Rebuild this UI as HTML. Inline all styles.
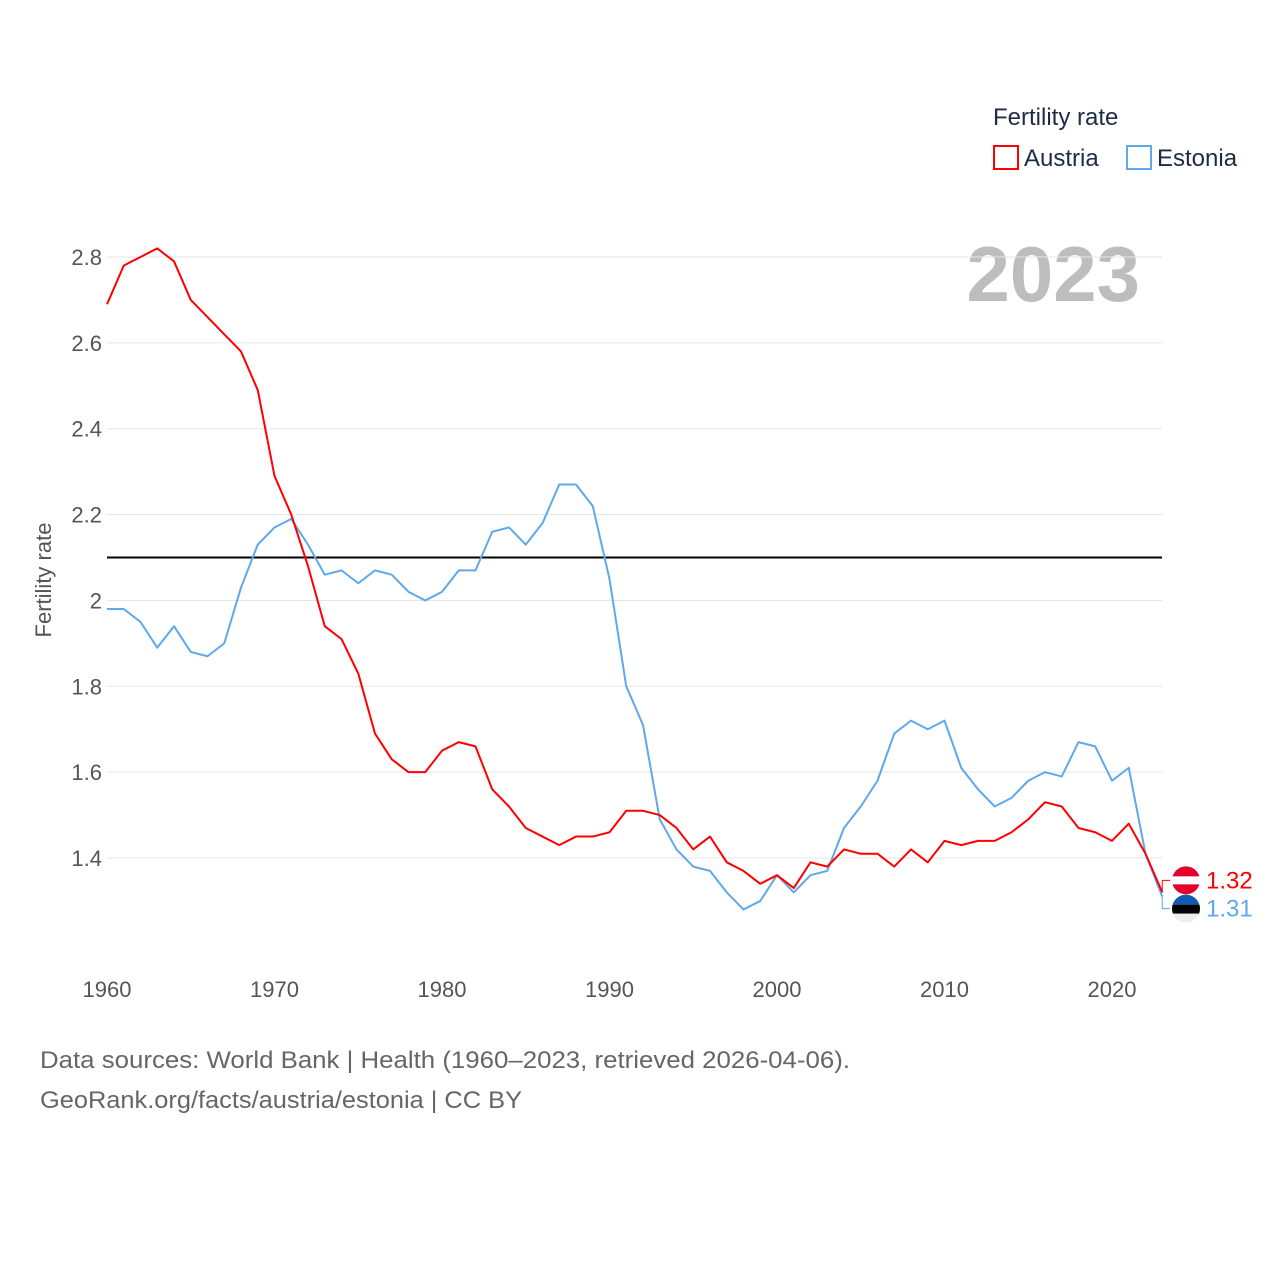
<!DOCTYPE html>
<html><head><meta charset="utf-8"><style>
body{margin:0;background:#fff;font-family:"Liberation Sans",sans-serif}
svg text{font-family:"Liberation Sans",sans-serif}
</style></head><body>
<svg id="chart" width="1280" height="1280" viewBox="0 0 1280 1280">
<text x="993" y="125" font-size="24" fill="#1d2b45">Fertility rate</text>
<g><rect x="994" y="146" width="24" height="23" fill="none" stroke="#f00" stroke-width="2"/><text x="1024" y="166" font-size="24" fill="#1d2b45">Austria</text></g>
<g><rect x="1127" y="146" width="24" height="23" fill="none" stroke="#5ea8ec" stroke-width="2"/><text x="1157" y="166" font-size="24" fill="#1d2b45">Estonia</text></g>
<text x="1140" y="301" font-size="78" font-weight="bold" fill="#bdbdbd" text-anchor="end">2023</text>
<text transform="translate(51,580) rotate(-90)" font-size="22" fill="#555" text-anchor="middle">Fertility rate</text>
<g id="grid"></g><g id="series"></g>
<text x="40" y="1068" font-size="24" fill="#666" textLength="810" lengthAdjust="spacingAndGlyphs">Data sources: World Bank | Health (1960–2023, retrieved 2026-04-06).</text>
<text x="40" y="1108" font-size="24" fill="#666" textLength="482" lengthAdjust="spacingAndGlyphs">GeoRank.org/facts/austria/estonia | CC BY</text>
</svg>
<script>
const years=[];for(let y=1960;y<=2023;y++)years.push(y);
const austria=[2.69,2.78,2.80,2.82,2.79,2.70,2.66,2.62,2.58,2.49,2.29,2.20,2.08,1.94,1.91,1.83,1.69,1.63,1.60,1.60,1.65,1.67,1.66,1.56,1.52,1.47,1.45,1.43,1.45,1.45,1.46,1.51,1.51,1.50,1.47,1.42,1.45,1.39,1.37,1.34,1.36,1.33,1.39,1.38,1.42,1.41,1.41,1.38,1.42,1.39,1.44,1.43,1.44,1.44,1.46,1.49,1.53,1.52,1.47,1.46,1.44,1.48,1.41,1.32];
const estonia=[1.98,1.98,1.95,1.89,1.94,1.88,1.87,1.90,2.03,2.13,2.17,2.19,2.13,2.06,2.07,2.04,2.07,2.06,2.02,2.00,2.02,2.07,2.07,2.16,2.17,2.13,2.18,2.27,2.27,2.22,2.05,1.80,1.71,1.49,1.42,1.38,1.37,1.32,1.28,1.30,1.36,1.32,1.36,1.37,1.47,1.52,1.58,1.69,1.72,1.70,1.72,1.61,1.56,1.52,1.54,1.58,1.60,1.59,1.67,1.66,1.58,1.61,1.41,1.31];
const yTicks=[1.4,1.6,1.8,2.0,2.2,2.4,2.6,2.8];
const yTickLabels=["1.4","1.6","1.8","2","2.2","2.4","2.6","2.8"];
const xTicks=[1960,1970,1980,1990,2000,2010,2020];
const replacement=[2.1];
const NS="http://www.w3.org/2000/svg";
const xs=y=>107+(y-1960)*(1112-107)/60;
const ys=v=>257+(2.8-v)/0.2*85.86;
const grid=document.getElementById('grid'),ser=document.getElementById('series');
function mk(tag,attrs,parent){const e=document.createElementNS(NS,tag);for(const k in attrs)e.setAttribute(k,attrs[k]);parent.appendChild(e);return e;}
yTicks.forEach((v,i)=>{
 const l=mk('line',{x1:107,x2:1162,y1:ys(v),y2:ys(v),stroke:'#e6e6e6','stroke-width':1},grid);
 
 
 const t=mk('text',{x:102,y:ys(v)+8,'font-size':22,fill:'#555','text-anchor':'end'},grid);t.textContent=yTickLabels[i];
 
 
});
xTicks.forEach(y=>{
 const t=mk('text',{x:xs(y),y:997,'font-size':22,fill:'#555','text-anchor':'middle'},grid);t.textContent=y;
 
 
});
replacement.forEach(v=>{
 const l=mk('line',{x1:107,x2:1162,y1:ys(v),y2:ys(v),stroke:'#000','stroke-width':2},grid);
 
 
});
function line(data,color,name){
 const p=mk('polyline',{points:data.map((v,i)=>xs(years[i])+','+ys(v)).join(' '),fill:'none',stroke:color,'stroke-width':2,'stroke-linejoin':'round'},ser);
 
 
}
line(estonia,'#5ea8ec','estonia-line');
line(austria,'#f00','austria-line');
const la=austria[austria.length-1],le=estonia[estonia.length-1];
const xe=xs(years[years.length-1]);
const ay=Math.min(ys(la),ys(le))-12, ey=Math.max(ys(la),ys(le))+12;
mk('polyline',{points:`${xe},${ys(la)} ${xe},${ay} ${xe+8},${ay}`,fill:'none',stroke:'#f00','stroke-width':1},ser);
mk('polyline',{points:`${xe},${ys(le)} ${xe},${ey} ${xe+8},${ey}`,fill:'none',stroke:'#5ea8ec','stroke-width':1},ser);
const fa=mk('g',{},ser);


mk('circle',{cx:1186,cy:ay,r:14,fill:'#e4002b'},fa);mk('rect',{x:1172,y:ay-4,width:28,height:8,fill:'#fff'},fa);
const fe=mk('g',{},ser);


mk('clipPath',{id:'ce'},fe);mk('circle',{cx:1186,cy:ey,r:14},fe.lastChild);
const ge=mk('g',{'clip-path':'url(#ce)'},fe);
mk('rect',{x:1172,y:ey-14,width:28,height:10,fill:'#0f5bb5'},ge);mk('rect',{x:1172,y:ey-4,width:28,height:9,fill:'#000'},ge);mk('rect',{x:1172,y:ey+5,width:28,height:9,fill:'#eee'},ge);
const ta=mk('text',{x:1206,y:ay+8,'font-size':24,fill:'#f00'},ser);ta.textContent=la.toFixed(2);


const te=mk('text',{x:1206,y:ey+8,'font-size':24,fill:'#5ea8ec'},ser);te.textContent=le.toFixed(2);


</script>
</body></html>
